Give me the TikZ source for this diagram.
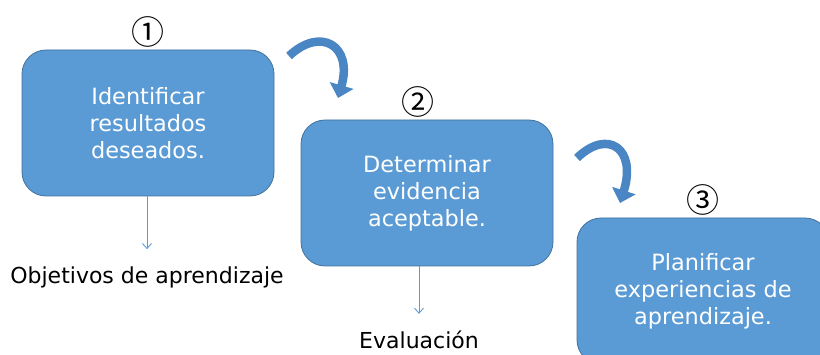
\documentclass[tikz,border=0pt]{standalone}
\usepackage{fontspec}
\setmainfont{DejaVu Sans}
\newfontfamily\cjk{Noto Sans CJK JP}
\usetikzlibrary{arrows.meta,positioning}
\definecolor{azul}{HTML}{5B9BD5}
\definecolor{azulborde}{HTML}{41719C}
\definecolor{azulgiro}{HTML}{4A86C4}
\tikzstyle{paso} = [rectangle, rounded corners=24pt, fill=azul, draw=azulborde, line width=0.8pt, text=white, align=center, minimum width=252pt, minimum height=146pt, font=\fontsize{22.4}{27}\selectfont]
\tikzstyle{num} = [font=\cjk\fontsize{33}{33}\selectfont, inner sep=0pt]
\tikzstyle{etq} = [font=\fontsize{22}{26}\selectfont, inner sep=3pt]
\tikzstyle{baja} = [draw=azul, line width=0.9pt, -{Straight Barb[length=5pt,width=9pt]}]
\tikzstyle{giro} = [draw=azulgiro, line width=8.5pt, -{Triangle[length=13pt,width=24pt]}]

\begin{document}
\begin{tikzpicture}[x=1pt, y=-1pt]
		\useasboundingbox (0,0) rectangle (820,355);
		\clip (0,0) rectangle (820,355);

		% pasos
		\node[paso] (b1) at (148,123) {Identificar\\resultados\\deseados.};
		\node[paso] (b2) at (427,193) {Determinar\\evidencia\\aceptable.};
		\node[paso] (b3) at (703,291) {Planificar\\experiencias de\\aprendizaje.};

		\node[num, above=2pt of b1] (n1) {①};
		\node[num, above=2pt of b2.north, xshift=-9pt] (n2) {②};
		\node[num, above=2pt of b3] (n3) {③};

		% resultados de cada paso
		\node[etq] (o1) at (147,277) {Objetivos de aprendizaje};
		\node[etq] (o2) at (419,340) {Evaluación};
		\draw[baja, shorten >=14pt] (b1.south -| o1) -- (o1);
		\draw[baja, shorten >=14pt] (b2.south -| o2) -- (o2);

		% flechas curvas
		\coordinate (g1a) at (289,56);
		\coordinate (g1b) at (338,98);
		\coordinate (g2a) at (577,158);
		\coordinate (g2b) at (620,203);
		\draw[giro] (g1a) .. controls +(32,-30) and +(15,-52) .. (g1b);
		\draw[giro] (g2a) .. controls +(31,-30) and +(17,-54) .. (g2b);
	\end{tikzpicture}
\end{document}
